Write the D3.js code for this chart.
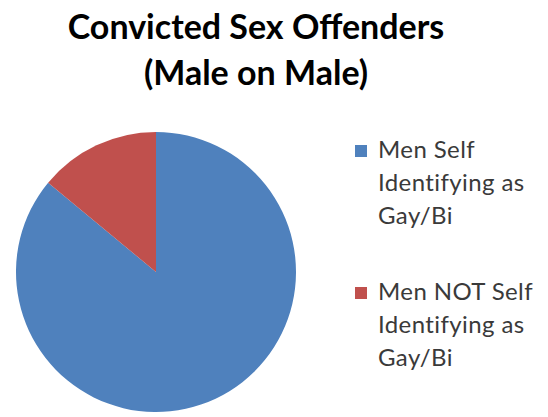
<!DOCTYPE html>
<html>
<head>
<meta charset="utf-8">
<script src="https://cdn.jsdelivr.net/npm/d3@7"></script>
<style>
  body { margin: 0; background: #fff; }
  svg text { font-family: Lato, "Open Sans", sans-serif; }
</style>
</head>
<body>
<div id="chart"></div>
<script>
// chart data
const titleLines = ["Convicted Sex Offenders", "(Male on Male)"];
const categories = ["Men Self Identifying as Gay/Bi", "Men NOT Self Identifying as Gay/Bi"];
const legendLines = [["Men Self", "Identifying as", "Gay/Bi"], ["Men NOT Self", "Identifying as", "Gay/Bi"]];
const values = [86, 14];
const colors = ["#4F81BD", "#C0504D"];

const width = 548, height = 417;

const svg = d3.select("#chart").append("svg")
    .attr("width", width)
    .attr("height", height);

// title
svg.append("g").selectAll("text")
    .data(titleLines)
    .enter()
    .append("text")
    .attr("x", 256)
    .attr("y", (d, i) => 39 + i * 46)
    .attr("text-anchor", "middle")
    .attr("font-size", "34px")
    .attr("font-weight", "bold")
    .attr("fill", "#000")
    .text(d => d);

// pie, Excel-style: first slice starts at 12 o'clock going clockwise
const radius = 140;
const pie = d3.pie().sort(null).value(d => d);
const arc = d3.arc().innerRadius(0).outerRadius(radius);

const color = d3.scaleOrdinal().domain(categories).range(colors);

svg.append("g")
    .attr("transform", "translate(156,272)")
    .selectAll("path")
    .data(pie(values))
    .enter()
    .append("path")
    .attr("d", arc)
    .attr("fill", (d, i) => color(categories[i]));

// legend
const legend = svg.append("g")
    .selectAll("g")
    .data(categories)
    .enter()
    .append("g")
    .attr("transform", (d, i) => "translate(355," + (145 + i * 142) + ")");

legend.append("rect")
    .attr("width", 12)
    .attr("height", 12)
    .attr("fill", d => color(d));

legend.selectAll("text")
    .data((d, i) => legendLines[i])
    .enter()
    .append("text")
    .attr("x", 23)
    .attr("y", (d, i) => 13 + i * 33)
    .attr("font-size", "24px")
    .attr("letter-spacing", "0.4px")
    .attr("fill", "#3a3a3a")
    .text(d => d);
</script>
</body>
</html>
